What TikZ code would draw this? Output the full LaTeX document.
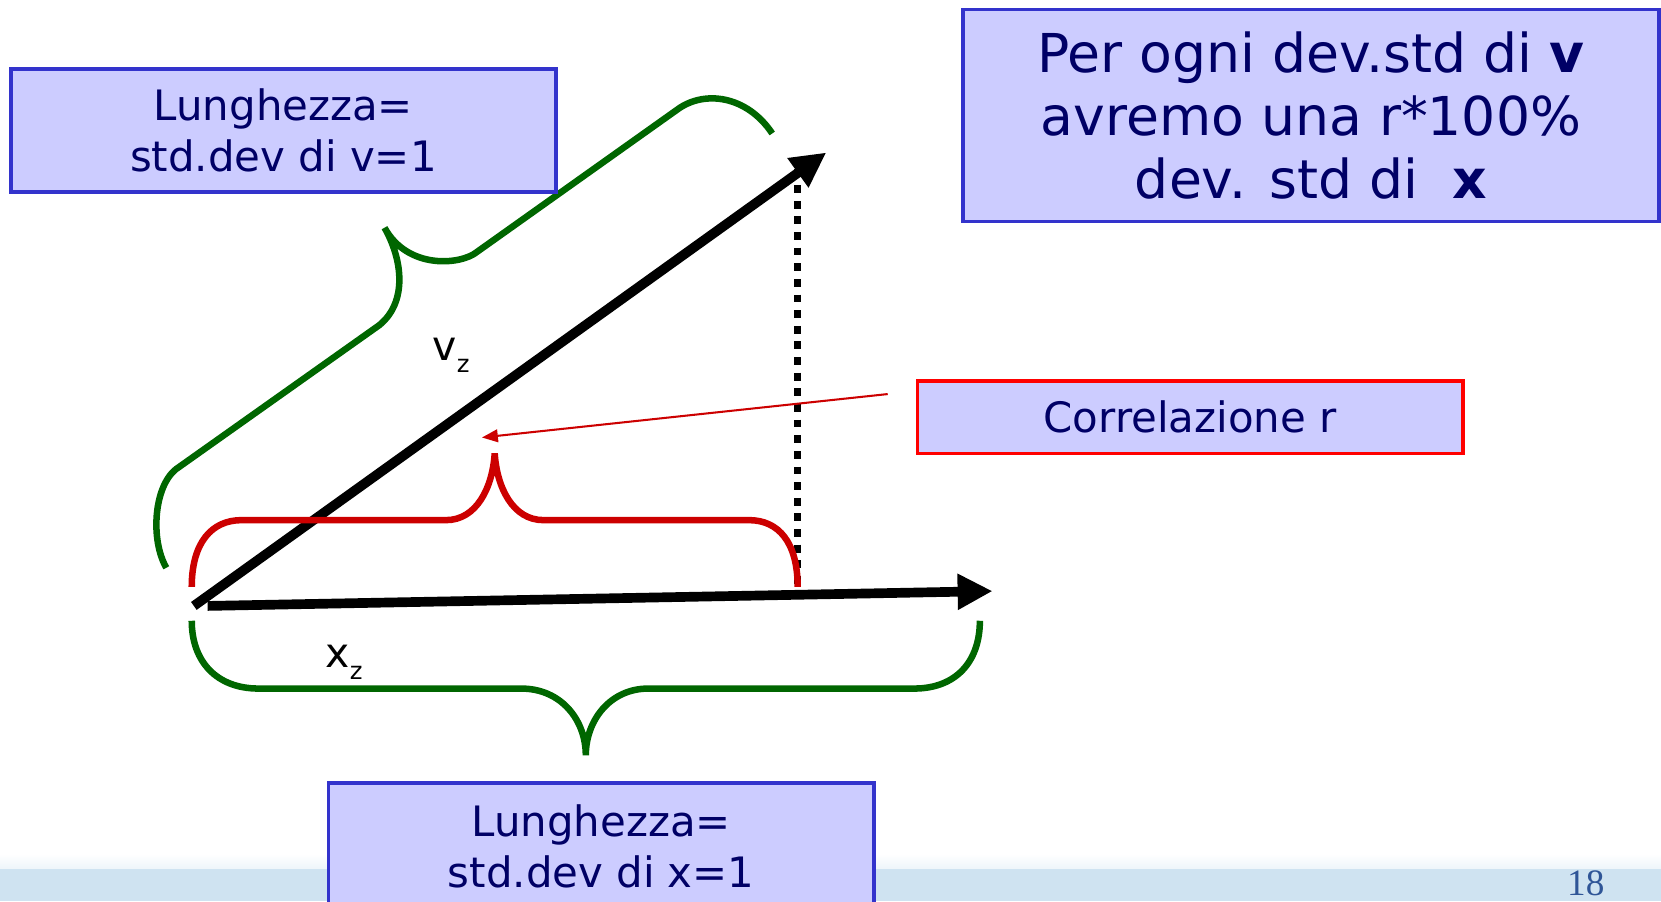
\documentclass[tikz,border=0pt]{standalone}
\usepackage{fontspec}
\setmainfont{DejaVu Sans}
\newfontfamily\numfont{Liberation Serif}
\usetikzlibrary{arrows.meta}
\definecolor{boxfill}{RGB}{204,204,255}
\definecolor{boxline}{RGB}{51,51,204}
\definecolor{navy}{RGB}{0,0,102}
\definecolor{bracegreen}{RGB}{0,102,0}
\definecolor{bracered}{RGB}{204,0,0}
\definecolor{band}{RGB}{207,227,241}
\definecolor{pgblue}{RGB}{47,85,151}
\begin{document}
\begin{tikzpicture}[x=0.02cm,y=-0.02cm,
  infobox/.style={draw=boxline, line width=2pt, fill=boxfill, text=navy, align=center, inner sep=0pt},
  bigarrow/.style={line width=5.2pt, line cap=butt, -{Triangle[length=0.66cm,width=0.64cm]}},
  bracepath/.style={line width=3.5pt, line cap=butt},
  dotline/.style={line width=3.8pt, dash pattern=on 4.2pt off 4.2pt},
  thinarrow/.style={draw=bracered, line width=1.1pt, -{Triangle[length=0.3cm,width=0.24cm]}},
  lbl/.style={anchor=base west, inner sep=0pt, font=\fontsize{22}{26}\selectfont},
]
\useasboundingbox (0,0) rectangle (1568,851);
% bottom band
\fill[band] (0,820) rectangle (1568,851);
\shade[top color=white, bottom color=band!35] (0,806) rectangle (1568,820);

% key points
\coordinate (O) at (183,572);
\coordinate (Ox) at (196,572);
\coordinate (V) at (780,144);
\coordinate (X) at (937,558);
\coordinate (Dtop) at (753,160);
\coordinate (Dbot) at (753,556);
\coordinate (Rstart) at (838,372);
\coordinate (Rend) at (455,413);

% dotted projection
\draw[dotline] (Dtop) -- (Dbot);

% green brace along v
\draw[bracepath, draw=bracegreen]
  (729,126) .. controls (705,90) and (665,85) .. (640,103)
  -- (450,238) .. controls (435,250) and (385,255) .. (363,215)
  .. controls (380,245) and (385,285) .. (358,307)
  -- (166,443) .. controls (145,460) and (142,510) .. (157,536);

% green brace under x
\draw[bracepath, draw=bracegreen]
  (181,586) .. controls (181,625) and (205,650) .. (244,650)
  -- (492,650) .. controls (530,650) and (553,680) .. (553,713)
  .. controls (553,680) and (576,650) .. (612,650)
  -- (863,650) .. controls (902,650) and (925,625) .. (925,586);

% vectors
\draw[bigarrow] (O) -- (V);
\draw[bigarrow] (Ox) -- (X);

% red brace
\draw[bracepath, draw=bracered]
  (181,554) .. controls (181,512) and (200,491) .. (228,491)
  -- (421,491) .. controls (450,491) and (465,460) .. (467,428)
  .. controls (469,460) and (484,491) .. (513,491)
  -- (707,491) .. controls (735,491) and (753,512) .. (753,554);

% thin red arrow
\draw[thinarrow] (Rstart) -- (Rend);

% labels
\node[lbl] (vz) at (408,340) {v\raisebox{-6.5pt}{\fontsize{13}{13}\selectfont z}};
\node[lbl] (xz) at (307,630) {x\raisebox{-6.5pt}{\fontsize{13}{13}\selectfont z}};

% boxes
\node[infobox, minimum width=10.3cm, minimum height=2.32cm,
  font=\fontsize{22.5}{27.3}\selectfont] (lenv) at (267.5,123)
  {Lunghezza=\\std.dev di v=1};
\node[infobox, minimum width=13.14cm, minimum height=4cm,
  font=\fontsize{28.8}{34}\selectfont] (note) at (1237.5,109)
  {Per ogni dev.std di \textbf{v}\\avremo una r*100\%\\dev. std di\ \ \textbf{x}};
\node[infobox, draw=red, minimum width=10.3cm, minimum height=1.36cm,
  font=\fontsize{22.5}{27}\selectfont] (corr) at (1123.5,394)
  {Correlazione r};
\node[infobox, minimum width=10.3cm, minimum height=2.4cm,
  font=\fontsize{22.5}{27.3}\selectfont] (lenx) at (567.5,799)
  {Lunghezza=\\std.dev di x=1};

% page number
\node[font=\numfont\fontsize{20}{24}\selectfont, text=pgblue, inner sep=0pt] (pg) at (1497,834) {18};
\end{tikzpicture}
\end{document}
